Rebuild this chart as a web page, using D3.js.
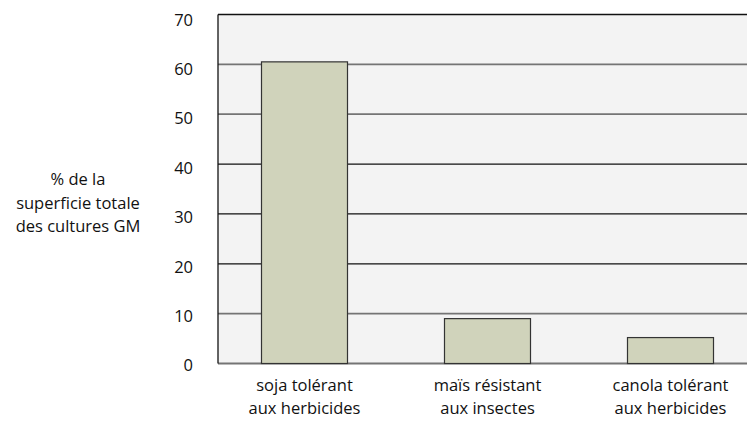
<!DOCTYPE html>
<html>
<head>
<meta charset="utf-8">
<script src="https://cdn.jsdelivr.net/npm/d3@7"></script>
<style>
  html, body { margin: 0; padding: 0; background: #fff; }
  svg { display: block; }
  text { font-family: "Open Sans", "Noto Sans", sans-serif; fill: #111; }
</style>
</head>
<body>
<svg id="chart" width="747" height="426"></svg>
<script>
// Part des cultures GM dans la superficie totale
const categories = [
  ["soja tolérant", "aux herbicides"],
  ["maïs résistant", "aux insectes"],
  ["canola tolérant", "aux herbicides"]
];
const values = [60.5, 9, 5.2];
const yTicks = [0, 10, 20, 30, 40, 50, 60, 70];
const yTitle = ["% de la", "superficie totale", "des cultures GM"];

const svg = d3.select("#chart");
const plot = { left: 218, right: 760, top: 14.5, bottom: 363.5 };
const fontSize = 16.5;

const y = d3.scaleLinear().domain([0, 70]).range([plot.bottom, plot.top]);
// tick labels sit slightly below their gridlines
const yLabel = d3.scaleLinear().domain([0, 70]).range([365, 19.5]);
const x = d3.scaleBand()
  .domain(d3.range(categories.length))
  .range([213, 762])
  .paddingInner(0.53)
  .paddingOuter(0.265);

// plot background
svg.append("rect")
  .attr("x", plot.left).attr("y", plot.top)
  .attr("width", plot.right - plot.left).attr("height", plot.bottom - plot.top)
  .attr("fill", "#f3f3f3");

// horizontal gridlines: middle band drawn in black, the others in grey
const darkLine = t => t >= 20 && t <= 40;
svg.append("g").selectAll("line")
  .data(yTicks.filter(t => t < 70))
  .join("line")
  .attr("x1", plot.left).attr("x2", plot.right)
  .attr("y1", d => y(d)).attr("y2", d => y(d))
  .attr("stroke", d => darkLine(d) ? "#111" : "#747474")
  .attr("stroke-width", d => darkLine(d) ? 1.3 : 1.8);

// top and left frame
svg.append("line")
  .attr("x1", plot.left).attr("x2", plot.right)
  .attr("y1", y(70)).attr("y2", y(70))
  .attr("stroke", "#111").attr("stroke-width", 1.3);
svg.append("line")
  .attr("x1", plot.left).attr("x2", plot.left)
  .attr("y1", y(70)).attr("y2", y(0))
  .attr("stroke", "#111").attr("stroke-width", 1.3);

// bars
svg.append("g").selectAll("rect")
  .data(values)
  .join("rect")
  .attr("x", (d, i) => x(i))
  .attr("width", x.bandwidth())
  .attr("y", d => y(d))
  .attr("height", d => y(0) - y(d))
  .attr("fill", "#d0d3bb")
  .attr("stroke", "#333")
  .attr("stroke-width", 1.2);

// y axis labels
const yAxis = d3.axisLeft(yLabel).tickValues(yTicks).tickSize(0).tickPadding(0);
const gy = svg.append("g").attr("transform", "translate(193,0)").call(yAxis);
gy.select(".domain").remove();
gy.selectAll("text")
  .attr("font-family", "'Open Sans', 'Noto Sans', sans-serif")
  .attr("font-size", fontSize).attr("fill", "#111").attr("dy", "0.35em");

// category labels
const labels = svg.append("g").selectAll("text")
  .data(categories)
  .join("text")
  .attr("text-anchor", "middle")
  .attr("font-size", fontSize)
  .attr("x", (d, i) => x(i) + x.bandwidth() / 2)
  .attr("y", 391);
labels.selectAll("tspan")
  .data(d => d)
  .join("tspan")
  .attr("x", function () { return d3.select(this.parentNode).attr("x"); })
  .attr("dy", (d, i) => i === 0 ? 0 : 23)
  .text(d => d);

// y axis title
svg.append("text")
  .attr("text-anchor", "middle")
  .attr("font-size", fontSize)
  .selectAll("tspan")
  .data(yTitle)
  .join("tspan")
  .attr("x", 78)
  .attr("y", (d, i) => 185 + i * 23.5)
  .text(d => d);
</script>
</body>
</html>
